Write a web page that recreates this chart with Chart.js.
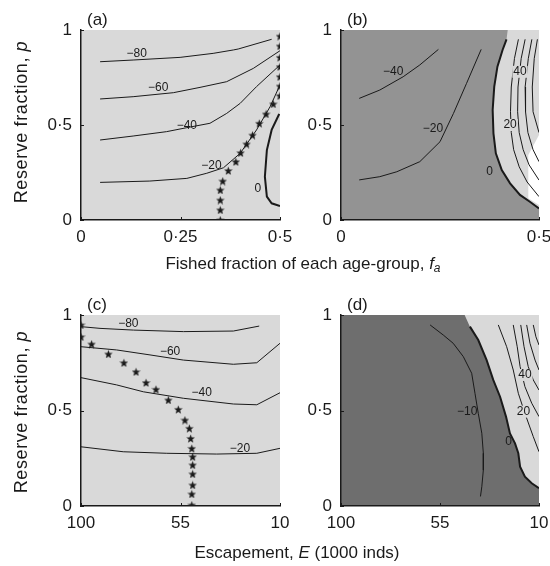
<!DOCTYPE html>
<html>
<head>
<meta charset="utf-8">
<script src="https://cdn.jsdelivr.net/npm/chart.js@4.4.1/dist/chart.umd.min.js"></script>
<style>
  body { margin: 0; background: #fff; }
  #fig { position: relative; width: 550px; height: 566px; overflow: hidden;
         font-family: "Liberation Sans", Arial, Helvetica, sans-serif; color: #1a1a1a; }
  #fig canvas { position: absolute; left: 0; top: 0; }
  .tit { position: absolute; font-size: 17px; white-space: nowrap; transform: translate(-50%, -50%); }
  .ytit { position: absolute; font-size: 18px; letter-spacing: 0.6px; white-space: nowrap;
          transform: translate(-50%, -50%) rotate(-90deg); }
  sub { font-size: 12px; vertical-align: -3px; line-height: 0; }
</style>
</head>
<body>
<div id="fig">
  <canvas id="panel-a" width="550" height="566"></canvas>
  <canvas id="panel-b" width="550" height="566"></canvas>
  <canvas id="panel-c" width="550" height="566"></canvas>
  <canvas id="panel-d" width="550" height="566"></canvas>
  <div class="ytit" style="left:21px; top:122px;">Reserve fraction, <i>p</i></div>
  <div class="ytit" style="left:21px; top:412px;">Reserve fraction, <i>p</i></div>
  <div class="tit" style="left:303px; top:264px;">Fished fraction of each age-group, <i>f</i><sub><i>a</i></sub></div>
  <div class="tit" style="left:297px; top:553px;">Escapement, <i>E</i> (1000 inds)</div>
</div>
<script>
// ---- tick values ----
const ticksFished = [0, 0.25, 0.5];
const ticksFishedB = [0, 0.5];
const ticksEscape = [100, 55, 10];
const ticksReserve = [0, 0.5, 1];

// ---- panel (a): fished fraction vs reserve fraction ----
const aMinus80 = [[0.048, 0.833], [0.131, 0.842], [0.249, 0.856], [0.332, 0.877], [0.383, 0.895], [0.395, 0.9], [0.479, 0.951]];
const aMinus60 = [[0.048, 0.637], [0.131, 0.649], [0.232, 0.67], [0.299, 0.698], [0.366, 0.728], [0.433, 0.798], [0.5, 0.891]];
const aMinus40 = [[0.048, 0.421], [0.131, 0.442], [0.215, 0.465], [0.266, 0.486], [0.324, 0.509], [0.366, 0.561], [0.4, 0.614], [0.441, 0.702], [0.5, 0.816]];
const aMinus20 = [[0.048, 0.198], [0.173, 0.205], [0.266, 0.219], [0.316, 0.246], [0.358, 0.275], [0.4, 0.351], [0.441, 0.474], [0.475, 0.596], [0.5, 0.711]];
const aZero = [[0.498, 0.558], [0.479, 0.474], [0.467, 0.368], [0.462, 0.228], [0.467, 0.123], [0.479, 0.088], [0.5, 0.074]];
const aOptimum = [[0.35, 0], [0.35, 0.053], [0.35, 0.105], [0.35, 0.158], [0.356, 0.205], [0.37, 0.26], [0.389, 0.307],
  [0.401, 0.354], [0.416, 0.4], [0.431, 0.447], [0.448, 0.509], [0.465, 0.558], [0.483, 0.611], [0.5, 0.654],
  [0.5, 0.705], [0.5, 0.754], [0.5, 0.807], [0.5, 0.856], [0.5, 0.916], [0.5, 0.968]];
const aLabels = [["−80", 0.14, 0.877], ["−60", 0.194, 0.696], ["−40", 0.266, 0.495], ["−20", 0.328, 0.286], ["0", 0.444, 0.163]];

// ---- panel (b) ----
const bMinus40 = [[0.046, 0.64], [0.098, 0.684], [0.157, 0.754], [0.199, 0.816], [0.246, 0.898]];
const bMinus20 = [[0.046, 0.211], [0.098, 0.228], [0.141, 0.254], [0.199, 0.307], [0.25, 0.412], [0.284, 0.561], [0.317, 0.719], [0.354, 0.898]];
const bZero = [[0.418, 0.951], [0.408, 0.895], [0.395, 0.807], [0.387, 0.702], [0.383, 0.579], [0.385, 0.456], [0.391, 0.351],
  [0.406, 0.263], [0.427, 0.193], [0.452, 0.132], [0.477, 0.096], [0.5, 0.061]];
const bLoss = [[0, 0], [0, 1], [0.421, 1], ...bZero, [0.5, 0]];
const bHigh = [[0.5, 0.447], [0.473, 0.342], [0.473, 0.114], [0.5, 0.079]];
const bPlus20 = [[0.448, 0.951], [0.438, 0.85], [0.43, 0.7], [0.428, 0.57], [0.43, 0.46], [0.436, 0.37], [0.45, 0.28], [0.47, 0.2], [0.5, 0.123]];
const bPlus40 = [[0.465, 0.951], [0.455, 0.85], [0.447, 0.7], [0.446, 0.57], [0.45, 0.46], [0.46, 0.37], [0.475, 0.29], [0.5, 0.21]];
const bPlus60 = [[0.482, 0.951], [0.473, 0.85], [0.465, 0.7], [0.466, 0.57], [0.472, 0.46], [0.485, 0.37], [0.5, 0.307]];
const bPlus80 = [[0.496, 0.951], [0.488, 0.85], [0.483, 0.7], [0.485, 0.57], [0.5, 0.46]];
const bLabels = [["−40", 0.132, 0.78], ["−20", 0.232, 0.483], ["0", 0.375, 0.254], ["20", 0.427, 0.5], ["40", 0.452, 0.78]];

// ---- panel (c): escapement vs reserve fraction ----
const cMinus80 = [[100, 0.939], [91.4, 0.93], [76.3, 0.921], [53.7, 0.913], [31.1, 0.916], [19.4, 0.942]];
const cMinus60 = [[100, 0.834], [83.9, 0.817], [68.8, 0.791], [53.7, 0.764], [31.1, 0.742], [20.5, 0.75], [10, 0.852]];
const cMinus40 = [[100, 0.672], [83.9, 0.634], [71.8, 0.598], [53.7, 0.564], [31.1, 0.534], [20.5, 0.53], [10, 0.593]];
const cMinus20 = [[100, 0.31], [80.9, 0.284], [61.2, 0.276], [38.6, 0.272], [20.5, 0.276], [10, 0.302]];
const cOptimum = [[100, 0.948], [100, 0.886], [95.2, 0.848], [87.6, 0.796], [80.6, 0.75], [75.1, 0.703], [70.6, 0.646],
  [66.1, 0.611], [60.5, 0.555], [56.0, 0.506], [53.0, 0.45], [51.0, 0.407], [50.4, 0.354], [49.9, 0.302], [49.5, 0.258],
  [49.5, 0.215], [49.5, 0.168], [49.5, 0.11], [49.9, 0.063], [49.9, 0.005]];
const cLabels = [["−80", 78.6, 0.956], ["−60", 59.7, 0.808], ["−40", 45.4, 0.593], ["−20", 28.1, 0.302]];

// ---- panel (d) ----
const dZero = [[41.4, 0.939], [37.6, 0.869], [33.8, 0.764], [30.8, 0.66], [27.7, 0.572], [25, 0.468], [23.2, 0.38],
  [20.9, 0.328], [19.4, 0.276], [18.6, 0.206], [16.4, 0.153], [13.3, 0.119], [10, 0.093]];
const dLoss = [[100, 0], [100, 1], [43.8, 1], ...dZero, [10, 0]];
const dMinus10 = [[59.5, 0.948], [53.5, 0.895], [49, 0.852], [44.4, 0.782], [40.6, 0.695], [39.1, 0.59], [37.6, 0.485],
  [36, 0.381], [35.3, 0.276], [35.3, 0.188], [36, 0.101], [36.6, 0.05]];
const dPlus20 = [[28.5, 0.948], [24.7, 0.834], [21.7, 0.712], [19.4, 0.59], [16.4, 0.485], [12.6, 0.363], [10, 0.284]];
const dPlus40 = [[21.7, 0.948], [19.9, 0.834], [18.6, 0.73], [16.4, 0.625], [13.3, 0.538], [10, 0.468]];
const dPlus60 = [[18.3, 0.948], [16.8, 0.834], [14.9, 0.73], [12.6, 0.66], [10, 0.607]];
const dPlus80 = [[15.6, 0.948], [14.1, 0.852], [11.8, 0.764], [10, 0.712]];
const dPlus100 = [[12.6, 0.948], [11.4, 0.886], [10, 0.843]];
const dLabels = [["−10", 42.6, 0.494], ["0", 23.8, 0.337], ["20", 17.1, 0.494], ["40", 16.4, 0.686]];

// ---- styling ----
const INK = "#1a1a1a";
const LIGHT = "#d9d9d9";
const FONT = '"Liberation Sans", Arial, Helvetica, sans-serif';
const Y_W = 40;
const X_H = 40;

Chart.defaults.font.family = FONT;
Chart.defaults.color = INK;

function toXY(pts) {
  return pts.map(([x, y]) => ({ x, y }));
}

function contour(pts, width) {
  return { data: toXY(pts), borderColor: INK, borderWidth: width || 1, pointRadius: 0, fill: false, order: 1 };
}

function region(pts, color) {
  return { data: toXY(pts), borderWidth: 0, borderColor: "rgba(0,0,0,0)", backgroundColor: color,
           fill: "shape", pointRadius: 0, order: 5 };
}

function makeStar(size) {
  const c = document.createElement("canvas");
  c.width = c.height = size;
  const g = c.getContext("2d");
  g.fillStyle = INK;
  g.beginPath();
  for (let i = 0; i < 10; i++) {
    const r = i % 2 ? size * 0.21 : size / 2;
    const ang = -Math.PI / 2 + i * Math.PI / 5;
    g.lineTo(size / 2 + r * Math.cos(ang), size / 2 + 0.5 + r * Math.sin(ang));
  }
  g.closePath();
  g.fill();
  return c;
}
const starImg = makeStar(9);

function stars(pts) {
  return { data: toXY(pts), showLine: false, pointStyle: starImg, pointRadius: 4, order: 0 };
}

const fmt = (v) => String(v).replace(".", "·");

// background of plot area, labels, panel letter, small inward ticks
function panelPlugin(letter, labels, inlineBg) {
  return {
    id: "panel" + letter,
    beforeDraw(chart) {
      const { ctx, chartArea: a } = chart;
      ctx.save();
      ctx.fillStyle = LIGHT;
      ctx.fillRect(a.left, a.top, a.right - a.left, a.bottom - a.top);
      ctx.restore();
    },
    afterDatasetsDraw(chart) {
      const { ctx, chartArea: a, scales } = chart;
      ctx.save();
      ctx.font = "12px " + FONT;
      ctx.textAlign = "center";
      ctx.textBaseline = "middle";
      labels.forEach(([txt, vx, vy]) => {
        const px = scales.x.getPixelForValue(vx);
        const py = scales.y.getPixelForValue(vy);
        if (inlineBg.includes(txt)) {
          const w = ctx.measureText(txt).width + 2;
          ctx.fillStyle = LIGHT;
          ctx.fillRect(px - w / 2, py - 6, w, 12);
        }
        ctx.fillStyle = INK;
        ctx.fillText(txt, px, py);
      });
      ctx.font = "17px " + FONT;
      ctx.textAlign = "left";
      ctx.textBaseline = "alphabetic";
      ctx.fillText(letter, a.left + 6, a.top - 5);
      // inward tick marks
      ctx.strokeStyle = INK;
      ctx.lineWidth = 1;
      ctx.beginPath();
      scales.x.ticks.forEach((t) => {
        const px = Math.round(scales.x.getPixelForValue(t.value)) + 0.5;
        ctx.moveTo(px, a.bottom);
        ctx.lineTo(px, a.bottom - 3);
      });
      scales.y.ticks.forEach((t) => {
        const py = Math.round(scales.y.getPixelForValue(t.value)) + 0.5;
        ctx.moveTo(a.left, py);
        ctx.lineTo(a.left + 3, py);
      });
      ctx.stroke();
      ctx.restore();
    },
  };
}

function makePanel(id, area, xMin, xMax, xTicks, reverse, datasets, plugin) {
  const [l, t, r, b] = area;
  return new Chart(document.getElementById(id), {
    type: "line",
    data: { datasets },
    options: {
      responsive: false,
      animation: false,
      events: [],
      layout: { padding: { left: l - Y_W, top: t, right: 550 - r, bottom: 566 - b - X_H } },
      plugins: { legend: { display: false }, tooltip: { enabled: false } },
      elements: { line: { tension: 0 } },
      scales: {
        x: {
          type: "linear", min: xMin, max: xMax, reverse,
          grid: { display: false, drawTicks: false },
          border: { display: true, color: INK, width: 1.5, z: 1 },
          ticks: { autoSkip: false, maxRotation: 0, padding: 7, font: { size: 17 }, callback: fmt },
          afterBuildTicks: (s) => { s.ticks = xTicks.map((v) => ({ value: v })); },
          afterFit: (s) => { s.height = X_H; s.paddingLeft = 0; s.paddingRight = 0; },
        },
        y: {
          type: "linear", min: 0, max: 1,
          grid: { display: false, drawTicks: false },
          border: { display: true, color: INK, width: 1.5, z: 1 },
          ticks: { autoSkip: false, padding: 9, font: { size: 17 }, callback: fmt },
          afterBuildTicks: (s) => { s.ticks = ticksReserve.map((v) => ({ value: v })); },
          afterFit: (s) => { s.width = Y_W; s.paddingTop = 0; s.paddingBottom = 0; },
        },
      },
    },
    plugins: [plugin],
  });
}

makePanel("panel-a", [81, 30, 280, 220], 0, 0.5, ticksFished, false, [
  stars(aOptimum),
  contour(aMinus80), contour(aMinus60), contour(aMinus40), contour(aMinus20),
  contour(aZero, 2),
], panelPlugin("(a)", aLabels, []));

makePanel("panel-b", [341, 30, 539, 220], 0, 0.5, ticksFishedB, false, [
  region(bLoss, "#939393"),
  region(bHigh, "#ffffff"),
  contour(bMinus40), contour(bMinus20),
  contour(bPlus20), contour(bPlus40), contour(bPlus60), contour(bPlus80),
  contour(bZero, 2),
], panelPlugin("(b)", bLabels, ["20", "40"]));

makePanel("panel-c", [81, 315, 280, 506], 10, 100, ticksEscape, true, [
  stars(cOptimum),
  contour(cMinus80), contour(cMinus60), contour(cMinus40), contour(cMinus20),
], panelPlugin("(c)", cLabels, []));

makePanel("panel-d", [341, 315, 539, 506], 10, 100, ticksEscape, true, [
  region(dLoss, "#6e6e6e"),
  contour(dMinus10),
  contour(dPlus20), contour(dPlus40), contour(dPlus60), contour(dPlus80), contour(dPlus100),
  contour(dZero, 2),
], panelPlugin("(d)", dLabels, ["20", "40"]));
</script>
</body>
</html>
